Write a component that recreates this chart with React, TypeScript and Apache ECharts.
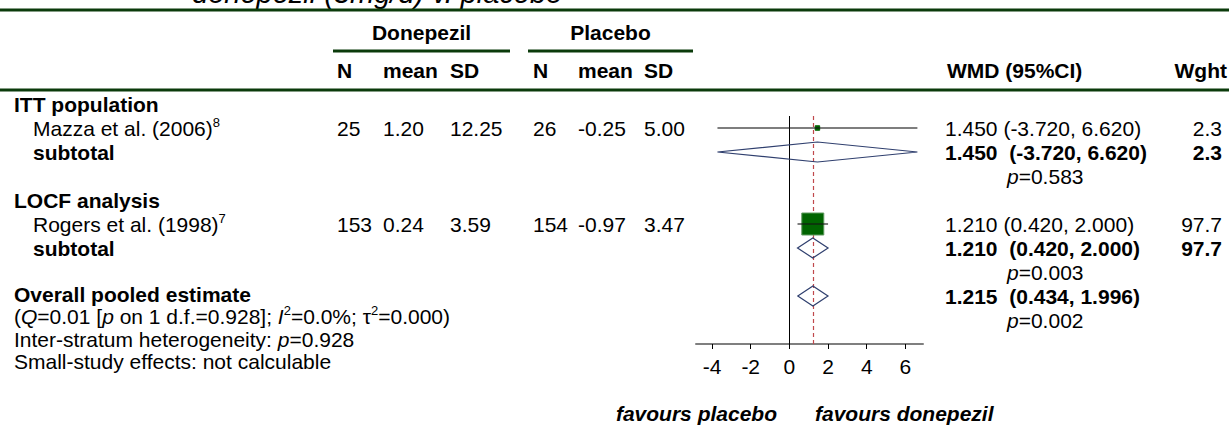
import React, { useEffect, useRef } from "react";
import * as echarts from "echarts";

// ---------------- data ----------------
const titleText = "donepezil (5mg/d) v. placebo";
const armLabels = ["Donepezil", "Placebo"];
const colLabels = ["N", "mean", "SD"];
const effectHeader = "WMD (95%CI)";
const weightHeader = "Wght";
const sectionLabels = ["ITT population", "LOCF analysis"];
const studyNames = ["Mazza et al. (2006)", "Rogers et al. (1998)"];
const studyRefs = ["8", "7"];
const donN = [25, 153];
const donMean = [1.2, 0.24];
const donSD = [12.25, 3.59];
const plaN = [26, 154];
const plaMean = [-0.25, -0.97];
const plaSD = [5.0, 3.47];
const studyEst = [1.45, 1.21];
const studyLo = [-3.72, 0.42];
const studyHi = [6.62, 2.0];
const studyWeight = [2.3, 97.7];
const subEst = [1.45, 1.21];
const subLo = [-3.72, 0.42];
const subHi = [6.62, 2.0];
const subWeight = [2.3, 97.7];
const subP = ["0.583", "0.003"];
const overallEst = 1.215;
const overallLo = 0.434;
const overallHi = 1.996;
const overallP = "0.002";
const hetQ = "0.01";
const hetDf = "1";
const hetP = "0.928";
const hetI2 = "0.0%";
const hetTau2 = "0.000";
const interP = "0.928";
const smallStudyText = "not calculable";
const xTicks = [-4, -2, 0, 2, 4, 6];
const xRange = [-4.83, 6.91];
const favoursLabels = ["favours placebo", "favours donepezil"];

// ---------------- layout / style ----------------
const FONT = "'Liberation Sans', Arial, Helvetica, sans-serif";
const FS = 21;
const GREEN = "#0b3b0b";
const ROW0 = 104;
const PITCH = 24;
const rowY = (r: number) => ROW0 + PITCH * r;
const GRID = { left: 696, top: 116, width: 227, height: 228 };
const colX = [337, 383, 450, 533, 578, 644];
const LEFT_X = 14;
const INDENT_X = 33;
const EFFECT_X = 945;
const P_X = 1007;
const WEIGHT_R = 1222;
const NB = "\u00a0";

const f2 = (v: number) => v.toFixed(2);
const f3 = (v: number) => v.toFixed(3);

const rich = {
  n: { fontFamily: FONT, fontSize: FS, fill: "#000", lineHeight: 24 },
  b: { fontFamily: FONT, fontSize: FS, fontWeight: "bold", fill: "#000", lineHeight: 24 },
  i: { fontFamily: FONT, fontSize: FS, fontStyle: "italic", fill: "#000", lineHeight: 24 },
  s: { fontFamily: FONT, fontSize: 13, fill: "#000", lineHeight: 13, verticalAlign: "top" },
};

type TOpts = { bold?: boolean; italic?: boolean; align?: string; size?: number; rich?: boolean };
function txt(x: number, y: number, text: string, o: TOpts = {}) {
  const style: any = {
    text,
    fontFamily: FONT,
    fontSize: o.size || FS,
    fontWeight: o.bold ? "bold" : "normal",
    fontStyle: o.italic ? "italic" : "normal",
    fill: "#000",
    align: o.align || "left",
    verticalAlign: "middle",
  };
  if (o.rich) style.rich = rich;
  return { type: "text", x, y, silent: true, style };
}
function bar(x: number, y: number, w: number, h: number) {
  return { type: "rect", silent: true, shape: { x, y, width: w, height: h }, style: { fill: GREEN } };
}

function buildGraphics() {
  const g: any[] = [];
  // title (cut off at the top edge, as in the reference)
  g.push(txt(192, -7.5, titleText, { italic: true, size: 29 }));
  // rules
  g.push(bar(0, 8.5, 1229, 3));
  g.push(bar(0, 88.5, 1229, 3));
  g.push(bar(333, 49.5, 177, 3));
  g.push(bar(528, 49.5, 165, 3));
  // arm headers
  g.push(txt(421.5, 32, armLabels[0], { bold: true, align: "center" }));
  g.push(txt(610.5, 32, armLabels[1], { bold: true, align: "center" }));
  for (let k = 0; k < 6; k++) g.push(txt(colX[k], 70, colLabels[k % 3], { bold: true }));
  g.push(txt(EFFECT_X + 2, 70, effectHeader, { bold: true }));
  g.push(txt(1227, 70, weightHeader, { bold: true, align: "right" }));

  for (let s = 0; s < 2; s++) {
    const base = 4 * s;
    g.push(txt(LEFT_X, rowY(base), sectionLabels[s], { bold: true }));
    g.push(txt(INDENT_X, rowY(base + 1), `{n|${studyNames[s]}}{s|${studyRefs[s]}}`, { rich: true }));
    g.push(txt(INDENT_X, rowY(base + 2), "subtotal", { bold: true }));
    const vals = [String(donN[s]), f2(donMean[s]), f2(donSD[s]), String(plaN[s]), f2(plaMean[s]), f2(plaSD[s])];
    vals.forEach((v, k) => g.push(txt(colX[k], rowY(base + 1), v)));
    g.push(txt(EFFECT_X, rowY(base + 1), `${f3(studyEst[s])} (${f3(studyLo[s])}, ${f3(studyHi[s])})`));
    g.push(txt(EFFECT_X, rowY(base + 2), `${f3(subEst[s])}${NB} (${f3(subLo[s])}, ${f3(subHi[s])})`, { bold: true }));
    g.push(txt(P_X, rowY(base + 3), `{i|p}{n|=${subP[s]}}`, { rich: true }));
    g.push(txt(WEIGHT_R, rowY(base + 1), studyWeight[s].toFixed(1), { align: "right" }));
    g.push(txt(WEIGHT_R, rowY(base + 2), subWeight[s].toFixed(1), { bold: true, align: "right" }));
  }
  // overall
  g.push(txt(EFFECT_X, rowY(8), `${f3(overallEst)}${NB} (${f3(overallLo)}, ${f3(overallHi)})`, { bold: true }));
  g.push(txt(P_X, rowY(9), `{i|p}{n|=${overallP}}`, { rich: true }));

  g.push(txt(LEFT_X, 294, "Overall pooled estimate", { bold: true }));
  g.push(
    txt(
      LEFT_X,
      316,
      `{n|(}{i|Q}{n|=${hetQ} [}{i|p}{n|${NB}on ${hetDf} d.f.=${hetP}];${NB}}{i|I}{s|2}{n|=${hetI2}; τ}{s|2}{n|=${hetTau2})}`,
      { rich: true }
    )
  );
  g.push(txt(LEFT_X, 339, `{n|Inter-stratum heterogeneity:${NB}}{i|p}{n|=${interP}}`, { rich: true }));
  g.push(txt(LEFT_X, 361, `Small-study effects: ${smallStudyText}`));

  // favours labels
  g.push(txt(777, 413, favoursLabels[0], { bold: true, italic: true, align: "right" }));
  g.push(txt(815, 413, favoursLabels[1], { bold: true, italic: true }));
  return g;
}

// forest marks: [estimate, lower, upper, row, weight, kind(0=study,1=diamond)]
function buildForestData() {
  const d: number[][] = [];
  for (let s = 0; s < 2; s++) {
    d.push([studyEst[s], studyLo[s], studyHi[s], 4 * s + 1, studyWeight[s], 0]);
    d.push([subEst[s], subLo[s], subHi[s], 4 * s + 2, subWeight[s], 1]);
  }
  d.push([overallEst, overallLo, overallHi, 8, 100, 1]);
  return d;
}

const maxW = Math.max(...studyWeight);
const BOX_MAX = 22;
const BOX_MIN = 4.5;
const DIAMOND_HALF = 10;

function renderItem(_params: any, api: any) {
  const est = api.value(0);
  const lo = api.value(1);
  const hi = api.value(2);
  const row = api.value(3);
  const w = api.value(4);
  const kind = api.value(5);
  const pc = api.coord([est, row]);
  const pl = api.coord([lo, row]);
  const ph = api.coord([hi, row]);
  if (kind === 1) {
    return {
      type: "polygon",
      shape: {
        points: [
          [pl[0], pc[1]],
          [pc[0], pc[1] - DIAMOND_HALF],
          [ph[0], pc[1]],
          [pc[0], pc[1] + DIAMOND_HALF],
        ],
      },
      style: { fill: "none", stroke: "#2f3f6e", lineWidth: 1.2 },
    };
  }
  const side = Math.max(BOX_MIN, BOX_MAX * Math.sqrt(w / maxW));
  return {
    type: "group",
    children: [
      {
        type: "rect",
        shape: { x: pc[0] - side / 2, y: pc[1] - side / 2, width: side, height: side },
        style: { fill: "#006400", stroke: side > 8 ? "#5f9a5f" : "#006400", lineWidth: 1 },
      },
      {
        type: "line",
        shape: { x1: pl[0], y1: pc[1], x2: ph[0], y2: pc[1] },
        style: { stroke: "rgba(20,20,20,0.55)", lineWidth: 2 },
      },
    ],
  };
}

function buildOption(): any {
  return {
    animation: false,
    backgroundColor: "#ffffff",
    grid: { ...GRID, containLabel: false, outerBoundsMode: "none" },
    xAxis: {
      type: "value",
      min: xRange[0],
      max: xRange[1],
      axisLine: { show: true, lineStyle: { color: "#7f7f7f", width: 2 } },
      axisTick: { show: true, inside: false, length: 5, customValues: xTicks, lineStyle: { color: "#000", width: 1 } },
      axisLabel: { show: true, customValues: xTicks, fontSize: FS, fontFamily: FONT, color: "#000", margin: 12 },
      splitLine: { show: false },
    },
    yAxis: { type: "value", inverse: true, min: 0.5, max: 10, show: false },
    series: [
      {
        type: "custom",
        z: 3,
        clip: false,
        renderItem,
        data: buildForestData(),
        markLine: {
          silent: true,
          z: 1,
          symbol: ["none", "none"],
          label: { show: false },
          data: [
            { xAxis: 0, lineStyle: { color: "#000", type: "solid", width: 1 } },
            { xAxis: overallEst, lineStyle: { color: "#c0484c", type: [4, 3], width: 1.2 } },
          ],
        },
      },
    ],
    graphic: { elements: buildGraphics() },
  };
}

export default function App() {
  const ref = useRef<HTMLDivElement>(null);
  useEffect(() => {
    if (!ref.current) return;
    const chart = echarts.init(ref.current, null, { renderer: "svg" });
    chart.setOption(buildOption());
    return () => chart.dispose();
  }, []);
  return (
    <div
      ref={ref}
      style={{ position: "absolute", left: 0, top: 0, width: 1229, height: 432, background: "#fff" }}
    />
  );
}
